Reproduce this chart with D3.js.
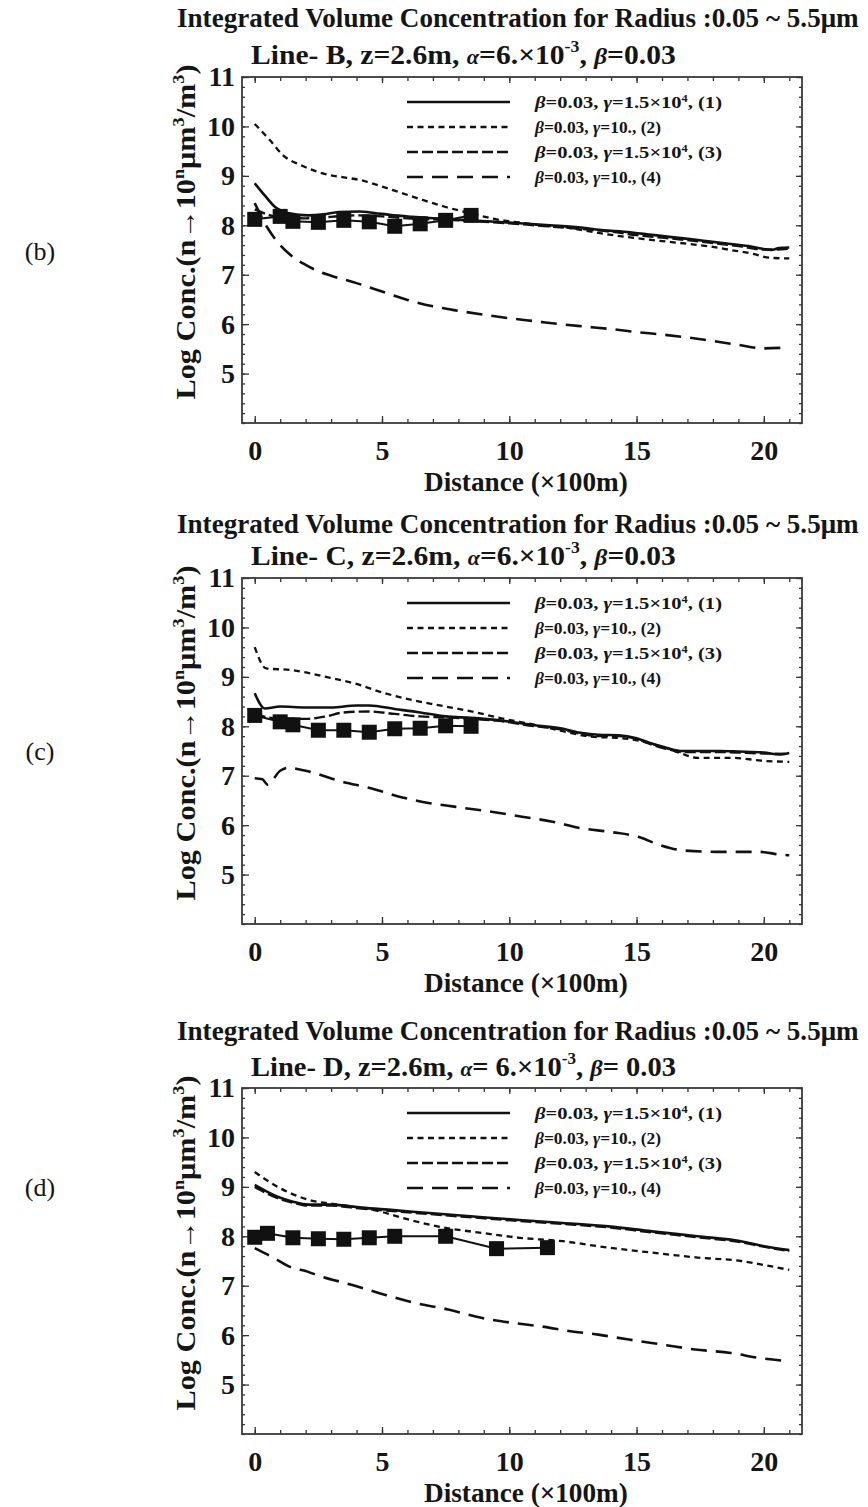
<!DOCTYPE html>
<html><head><meta charset="utf-8">
<script src="https://cdn.jsdelivr.net/npm/d3@7"></script>
<style>
body{margin:0;background:#fff}
svg{display:block}
text{font-family:"Liberation Serif","Times New Roman",serif;font-weight:bold;fill:#151515}
text.letter{font-weight:normal}
</style>
</head><body>
<svg id="chart" width="868" height="1507"></svg>
<script>
// ---------------- DATA ----------------
const xTicks = [0, 5, 10, 15, 20];
const yTicks = [5, 6, 7, 8, 9, 10, 11];
const xDomain = [-0.5, 21.5];
const yDomain = [4, 11];
const panelLetters = ["(b)", "(c)", "(d)"];
const lineNames = ["B", "C", "D"];
const mainTitle = "Integrated Volume Concentration for Radius :0.05 ~ 5.5\u03bcm";
const seriesLabels = ["(1)", "(2)", "(3)", "(4)"];
const gammaLabels = ["1.5\u00d710", "10.,", "1.5\u00d710", "10.,"];

// Panel B
const b1 = [[0,8.85],[0.4,8.6],[0.8,8.37],[1.3,8.25],[2.1,8.2],[2.7,8.22],[3.3,8.27],[4.1,8.28],[4.7,8.25],[5.3,8.21],[6.2,8.17],[7.1,8.14],[8.4,8.1],[9.5,8.07],[10.4,8.04],[11.6,8.0],[12.9,7.95],[13.7,7.9],[14.5,7.87],[15.4,7.82],[16.2,7.77],[17.1,7.72],[17.9,7.67],[18.7,7.62],[19.5,7.57],[20.0,7.52],[20.3,7.5],[20.6,7.54],[21,7.55]];
const b2 = [[0,10.05],[0.6,9.72],[1.1,9.42],[1.8,9.22],[2.9,9.02],[3.5,8.97],[4.1,8.92],[5.2,8.75],[6.2,8.58],[7.5,8.37],[8.5,8.24],[9.5,8.12],[10.5,8.05],[11.2,8.0],[12.0,7.97],[12.9,7.9],[13.7,7.83],[14.5,7.77],[15.3,7.72],[16.2,7.67],[17.1,7.62],[17.9,7.57],[18.7,7.5],[19.5,7.43],[20.3,7.34],[21,7.33]];
const b3 = [[0,8.32],[0.5,8.22],[1,8.16],[2,8.14],[3,8.17],[4,8.2],[5,8.18],[6,8.14],[7,8.12],[8,8.1],[9,8.07],[10,8.04],[11,8.0],[12,7.96],[13,7.92],[14,7.87],[15,7.8],[16,7.75],[17,7.7],[18,7.64],[19,7.58],[20,7.51],[20.5,7.51],[21,7.53]];
const b4 = [[0,8.45],[0.5,7.95],[1,7.6],[1.5,7.36],[2,7.2],[2.5,7.07],[3,6.98],[4,6.83],[5,6.66],[6,6.49],[7,6.36],[8,6.27],[9,6.19],[10,6.12],[11,6.06],[12,6.0],[13,5.95],[14,5.9],[15,5.84],[16,5.79],[17,5.73],[18,5.66],[19,5.58],[20,5.51],[21,5.53]];
const bMarkX = [0, 1, 1.5, 2.5, 3.5, 4.5, 5.5, 6.5, 7.5, 8.5];
const bMarkY = [8.12, 8.18, 8.08, 8.06, 8.1, 8.07, 7.98, 8.03, 8.1, 8.2];

// Panel C
const c1 = [[0,8.67],[0.4,8.36],[1,8.4],[2,8.38],[3,8.38],[4,8.42],[4.5,8.42],[5.5,8.35],[6.5,8.28],[7.5,8.2],[8.5,8.17],[9.6,8.12],[11,8.02],[12,7.96],[12.8,7.87],[13.5,7.83],[14.3,7.82],[15,7.76],[15.6,7.65],[16.2,7.56],[16.8,7.5],[17.5,7.5],[18.3,7.5],[19,7.49],[20,7.47],[20.6,7.43],[21,7.46]];
const c2 = [[0,9.6],[0.45,9.17],[1.4,9.14],[2.8,9.0],[3.9,8.87],[5.1,8.67],[6.2,8.53],[7.5,8.4],[8.6,8.29],[9.7,8.16],[11.1,8.02],[12.1,7.9],[13.2,7.79],[14.4,7.76],[15.5,7.66],[16.2,7.55],[16.7,7.46],[17.4,7.36],[18.8,7.36],[20,7.3],[21,7.28]];
const c3 = [[0,8.25],[0.5,8.18],[1,8.16],[2,8.15],[2.8,8.2],[3.5,8.28],[4.5,8.3],[5.5,8.25],[6.5,8.2],[7.5,8.18],[8.5,8.15],[9.6,8.11],[11,8.0],[12,7.94],[12.8,7.85],[13.5,7.8],[14.3,7.8],[15,7.74],[15.6,7.63],[16.2,7.54],[16.8,7.48],[18,7.48],[19,7.47],[20,7.45],[21,7.44]];
const c4 = [[0,6.95],[0.3,6.93],[0.5,6.82],[1.0,7.1],[1.3,7.16],[2,7.1],[2.5,7.03],[3.3,6.9],[4.6,6.74],[5.8,6.56],[6.6,6.47],[7.9,6.37],[9.3,6.27],[10.5,6.17],[11.7,6.07],[12.8,5.94],[14,5.86],[15.1,5.76],[15.9,5.6],[16.8,5.49],[18.1,5.46],[19.8,5.46],[20.7,5.4],[21,5.39]];
const cMarkX = [0, 1, 1.5, 2.5, 3.5, 4.5, 5.5, 6.5, 7.5, 8.5];
const cMarkY = [8.22, 8.09, 8.03, 7.92, 7.92, 7.88, 7.95, 7.96, 8.01, 8.0];

// Panel D
const d1 = [[0,9.04],[0.9,8.8],[1.5,8.7],[2.1,8.64],[3.0,8.64],[4.2,8.58],[5.45,8.53],[6.85,8.47],[8.6,8.4],[10.4,8.33],[12.1,8.27],[13.9,8.2],[15.6,8.1],[17.4,8.0],[19.1,7.9],[20,7.8],[21,7.72]];
const d2 = [[0,9.3],[0.9,9.0],[2.1,8.74],[3.3,8.64],[4.7,8.53],[6.1,8.33],[7.5,8.17],[8.9,8.07],[10.4,7.97],[12.1,7.9],[13.9,7.77],[15.6,7.67],[17.4,7.57],[19.1,7.5],[20,7.42],[21,7.32]];
const d3s = [[0,9.0],[0.9,8.77],[1.5,8.68],[2.1,8.62],[3,8.62],[4.2,8.56],[5.45,8.51],[6.85,8.45],[8.6,8.38],[10.4,8.31],[12.1,8.25],[13.9,8.18],[15.6,8.08],[17.4,7.98],[19.1,7.88],[20,7.79],[21,7.7]];
const d4 = [[0,7.76],[0.9,7.52],[1.3,7.4],[2.1,7.28],[2.6,7.19],[3.8,7.02],[4.9,6.85],[6.3,6.65],[7.6,6.52],[8.9,6.35],[10.1,6.25],[11.2,6.18],[12.4,6.08],[13.5,6.01],[14.7,5.91],[16,5.81],[17.3,5.71],[18.7,5.64],[19.8,5.54],[21,5.47]];
const dMarkX = [0, 0.5, 1.5, 2.5, 3.5, 4.5, 5.5, 7.5, 9.5, 11.5];
const dMarkY = [7.98, 8.06, 7.97, 7.95, 7.94, 7.97, 8.0, 8.0, 7.75, 7.77];

// ---------------- LAYOUT ----------------
const panels = [
  {series:[b1,b2,b3,b4], mx:bMarkX, my:bMarkY, top:77,  t1:27,   t2:64,   letterY:260, sp:""},
  {series:[c1,c2,c3,c4], mx:cMarkX, my:cMarkY, top:578, t1:533,  t2:565,  letterY:760, sp:""},
  {series:[d1,d2,d3s,d4], mx:dMarkX, my:dMarkY, top:1088, t1:1040, t2:1076, letterY:1196, sp:" "}
];
const L = 242, R = 802, H = 346;
const styles = [
  {w:2.6, dash:null},
  {w:2.3, dash:"6,4.5"},
  {w:2.4, dash:"11,4"},
  {w:2.6, dash:"16,9"}
];

const svg = d3.select("#chart");
svg.append("rect").attr("width",868).attr("height",1507).attr("fill","#fff");

function rich(textSel, parts, fs, lift) {
  let cur = 0;
  const up = lift || 0.42;
  parts.forEach(p => {
    const want = p.sup ? -fs*up : 0;
    const ts = textSel.append("tspan").text(p.t);
    if (want !== cur) ts.attr("dy", want - cur);
    cur = want;
    if (p.sup) ts.attr("font-size", fs*0.6);
    if (p.it) ts.attr("font-style","italic");
    if (p.sm) ts.attr("font-size", fs*p.sm);
  });
  return textSel;
}
// scale a text horizontally to a target width via transform
function fitWidth(textSel, x0, y0, target) {
  const w = textSel.node().getComputedTextLength();
  const k = target / w;
  textSel.attr("x", 0).attr("y", 0).attr("transform", `translate(${x0},${y0}) scale(${k},1)`);
}

panels.forEach((P, i) => {
  const T = P.top, B = T + H;
  const x = d3.scaleLinear().domain(xDomain).range([L, R]);
  const y = d3.scaleLinear().domain(yDomain).range([B, T]);
  const g = svg.append("g");

  // titles
  const t1 = g.append("text").attr("font-size",28).text(mainTitle);
  fitWidth(t1, 177, P.t1, 682);
  const t2 = rich(g.append("text").attr("font-size",28),
    [{t:"Line- "+lineNames[i]+", z=2.6m, "},{t:"\u03b1",it:true,sm:0.75},{t:"="+P.sp+"6.\u00d710"},{t:"-3",sup:true},{t:",  "},{t:"\u03b2",it:true,sm:0.85},{t:"="+P.sp+"0.03"}], 28);
  fitWidth(t2, 251, P.t2, 425);

  // panel letter
  g.append("text").attr("class","letter").attr("x",40).attr("y",P.letterY).attr("text-anchor","middle")
    .attr("font-size",26).text(panelLetters[i]);

  // minor ticks
  const minorX = d3.range(0, 22, 1);
  const minorY = d3.range(4, 11.001, 0.2);
  g.append("g").attr("transform",`translate(0,${B})`).call(d3.axisBottom(x).tickValues(minorX).tickSize(-4).tickFormat(""));
  g.append("g").attr("transform",`translate(0,${T})`).call(d3.axisTop(x).tickValues(minorX).tickSize(-4).tickFormat(""));
  g.append("g").attr("transform",`translate(${L},0)`).call(d3.axisLeft(y).tickValues(minorY).tickSize(-3).tickFormat(""));
  g.append("g").attr("transform",`translate(${R},0)`).call(d3.axisRight(y).tickValues(minorY).tickSize(-3).tickFormat(""));
  // major ticks + labels
  g.append("g").attr("class","ax").attr("transform",`translate(0,${B})`)
    .call(d3.axisBottom(x).tickValues(xTicks).tickSize(-7).tickPadding(17).tickFormat(d3.format("d")));
  g.append("g").attr("class","ax").attr("transform",`translate(${L},0)`)
    .call(d3.axisLeft(y).tickValues(yTicks).tickSize(-7).tickPadding(7).tickFormat(d3.format("d")));
  g.append("g").attr("transform",`translate(${R},0)`).call(d3.axisRight(y).tickValues(yTicks).tickSize(-6).tickFormat(""));
  g.append("g").attr("transform",`translate(0,${T})`).call(d3.axisTop(x).tickValues(xTicks).tickSize(-6).tickFormat(""));
  g.selectAll(".domain").remove();
  g.selectAll(".tick line").attr("stroke","#333").attr("stroke-width",1.3);
  g.selectAll(".ax text").attr("font-size",28).attr("font-family",'"Liberation Serif","Times New Roman",serif').attr("font-weight","bold").attr("fill","#151515");

  // frame
  g.append("rect").attr("x",L).attr("y",T).attr("width",R-L).attr("height",H)
    .attr("fill","none").attr("stroke","#3a3a3a").attr("stroke-width",1.8);

  // axis titles
  const xt = g.append("text").attr("font-size",28).text("Distance (\u00d7100m)");
  fitWidth(xt, 424, B+68, 204);
  rich(g.append("text").attr("transform",`translate(195,${T+155}) rotate(-90)`)
      .attr("text-anchor","middle").attr("font-size",27)
      .attr("textLength",335).attr("lengthAdjust","spacingAndGlyphs"),
    [{t:"Log Conc.(n\u219210"},{t:"n",sup:true},{t:"\u03bcm"},{t:"3",sup:true},{t:"/m"},{t:"3",sup:true},{t:")"}], 27);

  // curves
  const line = d3.line().x(d => x(d[0])).y(d => y(d[1])).curve(d3.curveMonotoneX);
  P.series.forEach((s, k) => {
    g.append("path").datum(s).attr("d", line).attr("fill","none")
      .attr("stroke","#111").attr("stroke-width", styles[k].w)
      .attr("stroke-dasharray", styles[k].dash).attr("stroke-linejoin","round");
  });

  // markers
  const pts = P.mx.map((v, k) => [v, P.my[k]]);
  g.append("path").datum(pts).attr("d", d3.line().x(d => x(d[0])).y(d => y(d[1])))
    .attr("fill","none").attr("stroke","#111").attr("stroke-width",2);
  g.selectAll("rect.mk").data(pts).enter().append("rect").attr("class","mk")
    .attr("x", d => x(d[0]) - 7.5).attr("y", d => y(d[1]) - 7.5)
    .attr("width",15).attr("height",15).attr("fill","#111");

  // legend
  styles.forEach((st, k) => {
    const ly = T + 25 + k*25;
    g.append("line").attr("x1",407).attr("x2",510).attr("y1",ly).attr("y2",ly)
      .attr("stroke","#111").attr("stroke-width", st.w).attr("stroke-dasharray", st.dash);
    const parts = [{t:"\u03b2",it:true},{t:"=0.03,  "},{t:"\u03b3",it:true},{t:"="+gammaLabels[k]}];
    if (k % 2 === 0) { parts.push({t:"4",sup:true}); parts.push({t:", "+seriesLabels[k]}); }
    else parts.push({t:" "+seriesLabels[k]});
    rich(g.append("text").attr("x",535).attr("y",ly+6).attr("font-size",17)
      .attr("textLength", k % 2 === 0 ? 187 : 126).attr("lengthAdjust","spacingAndGlyphs"), parts, 17, 0.33);
  });
});
</script>
</body></html>
